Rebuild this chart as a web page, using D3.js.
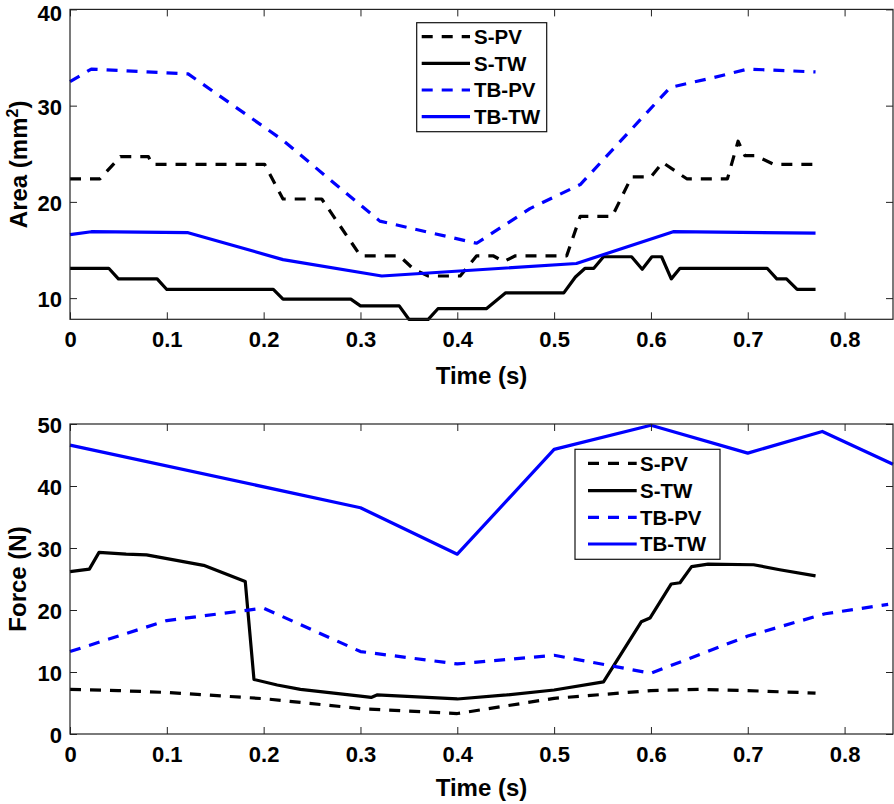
<!DOCTYPE html>
<html>
<head>
<meta charset="utf-8">
<script src="https://cdn.jsdelivr.net/npm/d3@7"></script>
<style>
  html, body { margin: 0; padding: 0; background: #fff; }
  svg { display: block; font-family: "Liberation Sans", Arial, Helvetica, sans-serif; font-weight: bold; }
</style>
</head>
<body>
<svg id="chart" width="894" height="804"></svg>
<script>
// ---------- DATA ----------
const seriesNames = ["S-PV", "S-TW", "TB-PV", "TB-TW"];
const xTicks = [0, 0.1, 0.2, 0.3, 0.4, 0.5, 0.6, 0.7, 0.8];
const areaYTicks = [10, 20, 30, 40];
const forceYTicks = [0, 10, 20, 30, 40, 50];

// Top panel: Area (mm^2)
const areaSPV_t = [0, 0.031, 0.052, 0.081, 0.085, 0.201, 0.22, 0.26, 0.30, 0.34, 0.355, 0.37, 0.403, 0.42, 0.437, 0.448, 0.46, 0.513, 0.527, 0.56, 0.58, 0.60, 0.612, 0.637, 0.679, 0.69, 0.697, 0.708, 0.727, 0.768];
const areaSPV_v = [22.4, 22.4, 24.7, 24.7, 23.9, 23.9, 20.3, 20.3, 14.4, 14.4, 13.0, 12.3, 12.3, 14.4, 14.4, 13.8, 14.4, 14.4, 18.5, 18.5, 22.6, 22.6, 24.1, 22.4, 22.4, 26.3, 24.8, 24.8, 23.9, 23.9];

const areaSTW_t = [0, 0.04, 0.05, 0.09, 0.10, 0.21, 0.22, 0.29, 0.30, 0.34, 0.35, 0.37, 0.38, 0.43, 0.45, 0.51, 0.522, 0.532, 0.541, 0.551, 0.58, 0.591, 0.601, 0.611, 0.621, 0.63, 0.72, 0.73, 0.74, 0.751, 0.77];
const areaSTW_v = [13.1, 13.1, 12.0, 12.0, 10.9, 10.9, 9.9, 9.9, 9.2, 9.2, 7.8, 7.8, 8.9, 8.9, 10.55, 10.55, 12.2, 13.1, 13.1, 14.3, 14.3, 13.0, 14.3, 14.3, 12.0, 13.1, 13.1, 12.0, 12.0, 10.9, 10.9];

const areaTBPV_t = [0, 0.022, 0.122, 0.22, 0.29, 0.32, 0.42, 0.475, 0.527, 0.62, 0.664, 0.70, 0.77];
const areaTBPV_v = [32.5, 33.8, 33.3, 26.4, 20.5, 18.0, 15.7, 19.3, 21.8, 31.9, 32.9, 33.8, 33.5];

const areaTBTW_t = [0, 0.022, 0.122, 0.22, 0.322, 0.523, 0.623, 0.77];
const areaTBTW_v = [16.6, 16.9, 16.8, 14.0, 12.3, 13.6, 16.9, 16.75];

// Bottom panel: Force (N)
const forceSPV_t = [0, 0.05, 0.1, 0.2, 0.3, 0.4, 0.5, 0.6, 0.65, 0.7, 0.77];
const forceSPV_v = [7.2, 7.0, 6.7, 5.7, 4.1, 3.3, 5.75, 7.0, 7.2, 7.0, 6.6];

const forceSTW_t = [0, 0.02, 0.03, 0.058, 0.079, 0.11, 0.138, 0.181, 0.19, 0.214, 0.238, 0.30, 0.311, 0.317, 0.40, 0.451, 0.50, 0.551, 0.59, 0.599, 0.621, 0.63, 0.642, 0.659, 0.706, 0.733, 0.77];
const forceSTW_v = [26.2, 26.6, 29.3, 29.0, 28.9, 28.0, 27.2, 24.6, 8.8, 7.9, 7.2, 6.1, 5.9, 6.3, 5.65, 6.3, 7.1, 8.4, 18.1, 18.7, 24.2, 24.4, 27.0, 27.4, 27.3, 26.5, 25.5];

const forceTBPV_t = [0, 0.1, 0.2, 0.3, 0.4, 0.5, 0.6, 0.7, 0.78, 0.845];
const forceTBPV_v = [13.3, 18.3, 20.3, 13.3, 11.3, 12.7, 9.8, 15.8, 19.4, 20.9];

const forceTBTW_t = [0, 0.30, 0.40, 0.50, 0.60, 0.70, 0.777, 0.85];
const forceTBTW_v = [46.6, 36.5, 29.0, 45.9, 49.8, 45.3, 48.8, 43.5];

// ---------- STYLE ----------
const styles = {
  "S-PV":  { color: "#000000", dash: "11,9" },
  "S-TW":  { color: "#000000", dash: null },
  "TB-PV": { color: "#0000ff", dash: "11,9" },
  "TB-TW": { color: "#0000ff", dash: null }
};
const LW = 3.2;

const svg = d3.select("#chart");

function zip(t, v) { return t.map((d, i) => ({ t: d, v: v[i] })); }

function panel(cfg) {
  const x = d3.scaleLinear().domain([0, 0.85]).range([cfg.left, cfg.right]);
  const y = d3.scaleLinear().domain(cfg.yDomain).range([cfg.bottom, cfg.top]);
  const g = svg.append("g");
  const tickLen = 7;

  // lines
  const line = d3.line().x(d => x(d.t)).y(d => y(d.v));
  cfg.series.forEach(s => {
    const st = styles[s.name];
    g.append("path")
      .datum(zip(s.t, s.v))
      .attr("d", line)
      .attr("fill", "none")
      .attr("stroke", st.color)
      .attr("stroke-width", LW)
      .attr("stroke-linejoin", "round")
      .attr("stroke-dasharray", st.dash);
  });

  // axes (ticks inward on all four sides)
  const axB = d3.axisBottom(x).tickValues(xTicks).tickSize(-tickLen).tickFormat(d => d === 0 ? "0" : d3.format(".1f")(d)).tickPadding(12);
  const axT = d3.axisTop(x).tickValues(xTicks).tickSize(-tickLen).tickFormat("");
  const axL = d3.axisLeft(y).tickValues(cfg.yTicks).tickSize(-tickLen).tickFormat(d3.format("d")).tickPadding(8);
  const axR = d3.axisRight(y).tickValues(cfg.yTicks).tickSize(-tickLen).tickFormat("");

  const styleAxis = sel => {
    sel.select(".domain").remove();
    sel.selectAll("line").attr("stroke", "#222").attr("stroke-width", 1);
    sel.selectAll("text").attr("fill", "#000").attr("font-size", 22).attr("font-weight", "bold")
      .attr("font-family", '"Liberation Sans", Arial, sans-serif');
  };
  g.append("g").attr("transform", `translate(0,${cfg.bottom})`).call(axB).call(styleAxis);
  g.append("g").attr("transform", `translate(0,${cfg.top})`).call(axT).call(styleAxis);
  const gl = g.append("g").attr("transform", `translate(${cfg.left},0)`).call(axL).call(styleAxis);
  gl.selectAll("text").attr("dy", "0.38em");
  // keep the topmost label fully inside the picture
  gl.selectAll(".tick").each(function(d) {
    const ty = y(d);
    if (ty < 20) d3.select(this).select("text").attr("y", 20 - ty - 0.38 * 22 + 0.5).attr("dy", "0.38em");
  });
  g.append("g").attr("transform", `translate(${cfg.right},0)`).call(axR).call(styleAxis);

  g.append("rect")
    .attr("x", cfg.left).attr("y", cfg.top)
    .attr("width", cfg.right - cfg.left).attr("height", cfg.bottom - cfg.top)
    .attr("fill", "none").attr("stroke", "#222").attr("stroke-width", 1.2);

  // axis titles
  g.append("text")
    .attr("x", (cfg.left + cfg.right) / 2).attr("y", cfg.xLabelY)
    .attr("text-anchor", "middle").attr("font-size", 24).attr("fill", "#000")
    .text("Time (s)");

  const yl = g.append("text")
    .attr("transform", `translate(${cfg.yLabelX},${(cfg.top + cfg.bottom) / 2}) rotate(-90)`)
    .attr("text-anchor", "middle").attr("font-size", 24).attr("fill", "#000");
  cfg.yLabel(yl);

  // legend
  const L = cfg.legend;
  const lg = g.append("g");
  lg.append("rect").attr("x", L.x0).attr("y", L.y0).attr("width", L.x1 - L.x0).attr("height", L.y1 - L.y0)
    .attr("fill", "#fff").attr("stroke", "#111").attr("stroke-width", 1.2);
  seriesNames.forEach((n, i) => {
    const yy = L.rowY[i];
    const st = styles[n];
    lg.append("line").attr("x1", L.lx0).attr("x2", L.lx1).attr("y1", yy).attr("y2", yy)
      .attr("stroke", st.color).attr("stroke-width", LW).attr("stroke-dasharray", st.dash);
    lg.append("text").attr("x", L.tx).attr("y", yy).attr("dy", "0.36em")
      .attr("font-size", 20.5).attr("fill", "#000").text(n);
  });
}

panel({
  left: 70, right: 893, top: 9.4, bottom: 319.3,
  yDomain: [7.8, 40], yTicks: areaYTicks,
  xLabelY: 384, yLabelX: 27,
  yLabel: t => {
    t.append("tspan").text("Area (mm");
    t.append("tspan").attr("font-size", 16).attr("dy", -9).text("2");
    t.append("tspan").attr("dy", 9).text(")");
  },
  series: [
    { name: "S-PV", t: areaSPV_t, v: areaSPV_v },
    { name: "S-TW", t: areaSTW_t, v: areaSTW_v },
    { name: "TB-PV", t: areaTBPV_t, v: areaTBPV_v },
    { name: "TB-TW", t: areaTBTW_t, v: areaTBTW_v }
  ],
  legend: { x0: 416.7, x1: 546.7, y0: 22.7, y1: 131.7, lx0: 421.7, lx1: 470, tx: 474, rowY: [36.7, 63.3, 90, 116.7] }
});

panel({
  left: 70, right: 893, top: 424, bottom: 734,
  yDomain: [0, 50], yTicks: forceYTicks,
  xLabelY: 796, yLabelX: 26,
  yLabel: t => t.text("Force (N)"),
  series: [
    { name: "S-PV", t: forceSPV_t, v: forceSPV_v },
    { name: "S-TW", t: forceSTW_t, v: forceSTW_v },
    { name: "TB-PV", t: forceTBPV_t, v: forceTBPV_v },
    { name: "TB-TW", t: forceTBTW_t, v: forceTBTW_v }
  ],
  legend: { x0: 575, x1: 720, y0: 449.3, y1: 559.3, lx0: 588, lx1: 636.7, tx: 640, rowY: [463.3, 490.7, 517.3, 544] }
});
</script>
</body>
</html>
